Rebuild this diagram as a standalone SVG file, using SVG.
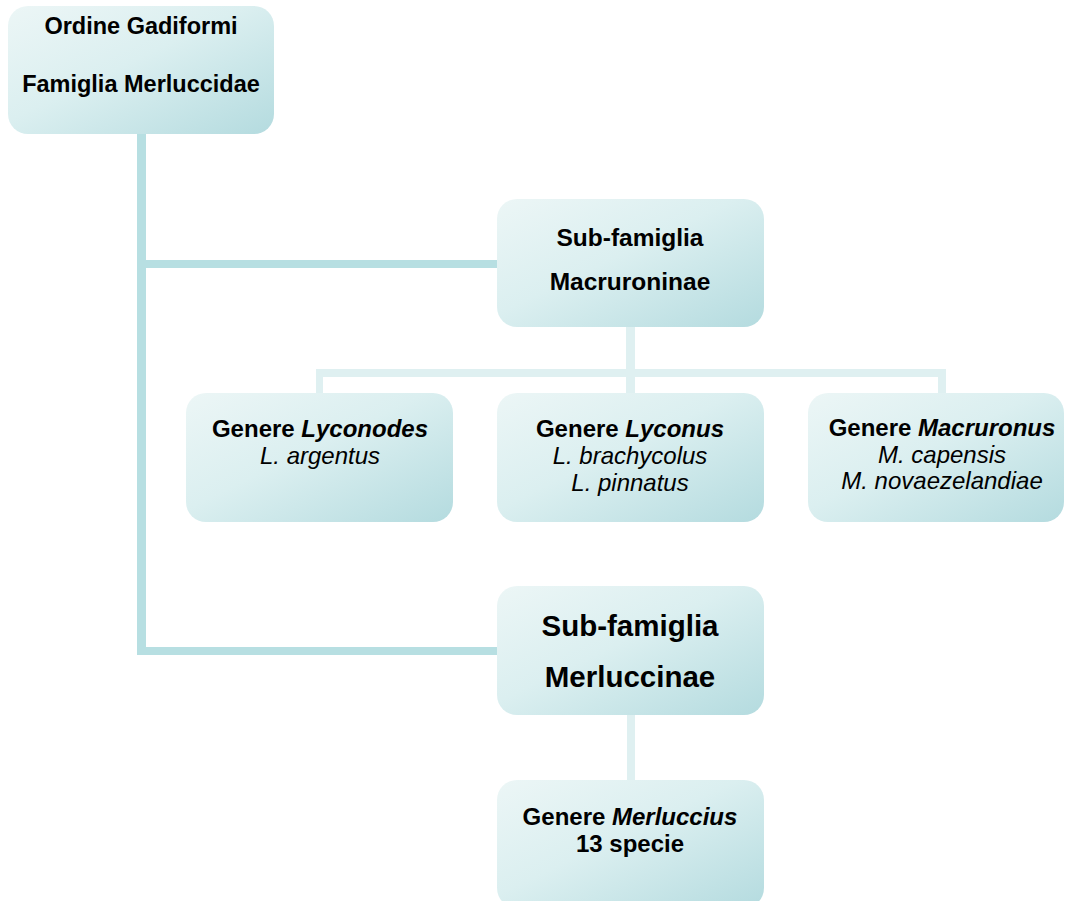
<svg xmlns="http://www.w3.org/2000/svg" width="1066" height="901" viewBox="0 0 1066 901">
<defs>
<linearGradient id="bg" x1="0" y1="0" x2="1" y2="1">
<stop offset="0" stop-color="#ecf6f6"/>
<stop offset="0.45" stop-color="#dbeff0"/>
<stop offset="1" stop-color="#b4dbdf"/>
</linearGradient>
<style>
.box{fill:url(#bg);}
.t{font-family:"Liberation Sans",Arial,sans-serif;font-weight:bold;fill:#000;text-anchor:middle;}
.i{font-family:"Liberation Sans",Arial,sans-serif;font-style:italic;fill:#000;text-anchor:middle;}
.dark{fill:#b7dfe2;}
.light{fill:#dff0f1;}
</style>
</defs>
<rect width="1066" height="901" fill="#ffffff"/>
<g id="connectors">
<rect class="dark" x="137" y="130" width="9" height="525"/>
<rect class="dark" x="137" y="260" width="362" height="8"/>
<rect class="dark" x="137" y="647" width="362" height="8"/>
<rect class="light" x="626" y="325" width="9" height="52"/>
<rect class="light" x="316" y="369" width="630" height="8"/>
<rect class="light" x="316" y="369" width="7" height="26"/>
<rect class="light" x="626" y="369" width="9" height="26"/>
<rect class="light" x="938" y="369" width="8" height="26"/>
<rect class="light" x="627" y="713" width="8" height="69"/>
</g>
<g id="ordine">
<rect class="box" x="8" y="6" width="266" height="128" rx="20"/>
<text class="t" x="141" y="34" font-size="23.5">Ordine Gadiformi</text>
<text class="t" x="141" y="92" font-size="23.5">Famiglia Merluccidae</text>
</g>
<g id="macruroninae">
<rect class="box" x="497" y="199" width="267" height="128" rx="20"/>
<text class="t" x="630" y="246" font-size="24.5">Sub-famiglia</text>
<text class="t" x="630" y="290" font-size="24.5">Macruroninae</text>
</g>
<g id="lyconodes">
<rect class="box" x="186" y="393" width="267" height="129" rx="20"/>
<text class="t" x="320" y="437" font-size="24">Genere <tspan font-style="italic">Lyconodes</tspan></text>
<text class="i" x="320" y="464" font-size="24">L. argentus</text>
</g>
<g id="lyconus">
<rect class="box" x="497" y="393" width="267" height="129" rx="20"/>
<text class="t" x="630" y="437" font-size="24">Genere <tspan font-style="italic">Lyconus</tspan></text>
<text class="i" x="630" y="464" font-size="24">L. brachycolus</text>
<text class="i" x="630" y="491" font-size="24">L. pinnatus</text>
</g>
<g id="macruronus">
<rect class="box" x="808" y="393" width="256" height="129" rx="20"/>
<text class="t" x="942" y="436" font-size="24">Genere <tspan font-style="italic">Macruronus</tspan></text>
<text class="i" x="942" y="463" font-size="24">M. capensis</text>
<text class="i" x="942" y="489" font-size="24">M. novaezelandiae</text>
</g>
<g id="merluccinae">
<rect class="box" x="497" y="586" width="267" height="129" rx="20"/>
<text class="t" x="630" y="636" font-size="29.5">Sub-famiglia</text>
<text class="t" x="630" y="687" font-size="29.5">Merluccinae</text>
</g>
<g id="merluccius">
<rect class="box" x="497" y="780" width="267" height="128" rx="20"/>
<text class="t" x="630" y="825" font-size="24">Genere <tspan font-style="italic">Merluccius</tspan></text>
<text class="t" x="630" y="852" font-size="24">13 specie</text>
</g>
</svg>
